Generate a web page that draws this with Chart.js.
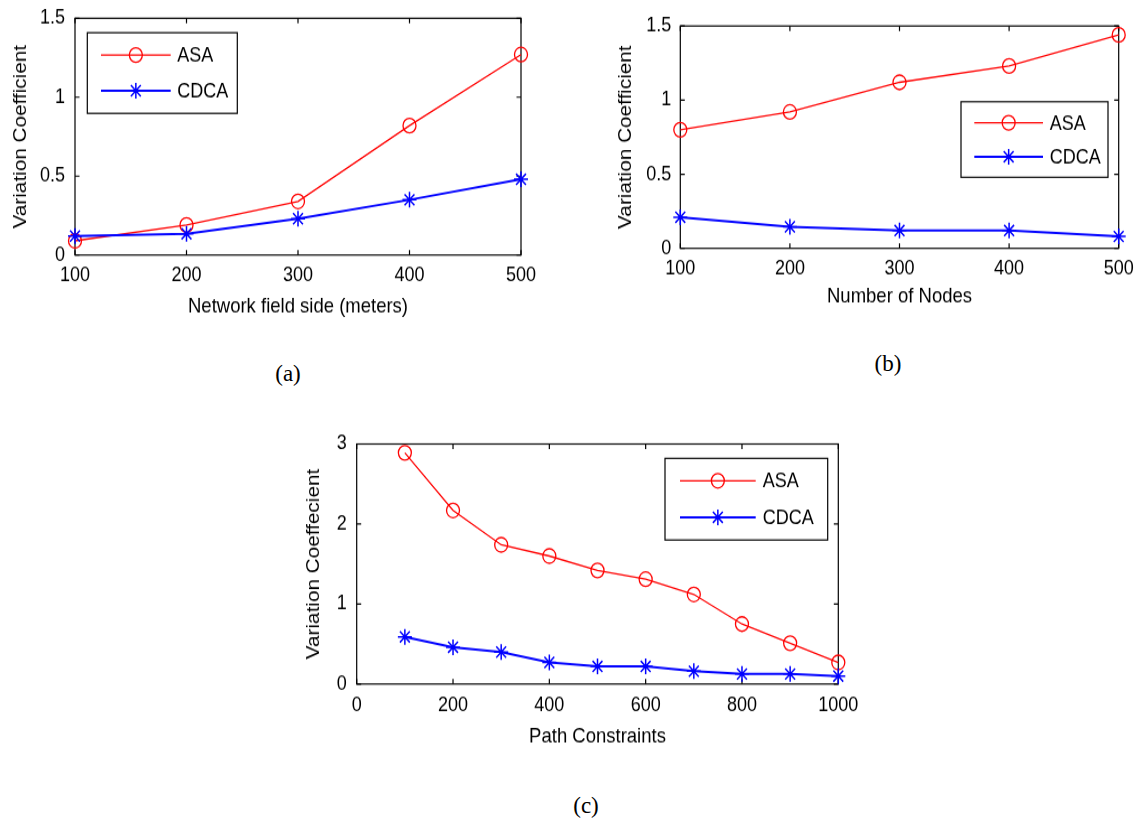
<!DOCTYPE html>
<html>
<head>
<meta charset="utf-8">
<title>Variation Coefficient - ASA vs CDCA</title>
<script src="https://cdn.jsdelivr.net/npm/chart.js@4.4.1/dist/chart.umd.min.js"></script>
<style>
    html, body { margin: 0; padding: 0; background: #fff; }
    body { width: 1137px; height: 819px; position: relative; overflow: hidden; }
    /* the source figure is slightly stretched vertically */
    .panel { position: absolute; transform: scaleY(1.12); transform-origin: 0 0; }
    .panel canvas { display: block; }
    .caption {
        position: absolute;
        font-family: 'Liberation Serif', 'Times New Roman', serif;
        font-size: 23px;
        color: #000;
        transform: translate(-50%, -50%);
    }
</style>
</head>
<body>
<div class="panel" style="left:0px;top:0px"><canvas id="chartA" width="545" height="290"></canvas></div>
<div class="panel" style="left:600px;top:0px"><canvas id="chartB" width="537" height="290"></canvas></div>
<div class="panel" style="left:300px;top:430px"><canvas id="chartC" width="575" height="290"></canvas></div>
<div class="caption" style="left:288px;top:374px">(a)</div>
<div class="caption" style="left:888px;top:364px">(b)</div>
<div class="caption" style="left:586px;top:806px">(c)</div>

<script>
// (a) Network field side
const fieldSide = [100, 200, 300, 400, 500];
const asaFieldSide = [0.09, 0.19, 0.34, 0.82, 1.27];
const cdcaFieldSide = [0.12, 0.135, 0.23, 0.35, 0.48];

// (b) Number of nodes
const nodeCount = [100, 200, 300, 400, 500];
const asaNodes = [0.80, 0.92, 1.12, 1.23, 1.44];
const cdcaNodes = [0.21, 0.145, 0.12, 0.12, 0.08];

// (c) Path constraints
const pathConstraints = [100, 200, 300, 400, 500, 600, 700, 800, 900, 1000];
const asaPath = [2.89, 2.17, 1.74, 1.60, 1.42, 1.31, 1.12, 0.75, 0.51, 0.27];
const cdcaPath = [0.59, 0.46, 0.40, 0.27, 0.22, 0.22, 0.16, 0.125, 0.125, 0.10];

// tick labels
const xTicksAB = [100, 200, 300, 400, 500];
const xTicksC = [0, 200, 400, 600, 800, 1000];
const yTicksAB = [0, 0.5, 1, 1.5];
const yTicksC = [0, 1, 2, 3];

const RED = '#ff0000';
const BLUE = '#0000ff';
const TEXT = '#000';
const FONT = "'Liberation Sans', Arial, Helvetica, sans-serif";

// MATLAB style box with inward ticks on all four sides, plus the legend
const matlabAxes = {
    id: 'matlabAxes',
    beforeDatasetsDraw(chart) {
        const { ctx, chartArea: a, scales: { x, y } } = chart;
        const t = 4.5;
        ctx.save();
        ctx.strokeStyle = '#000';
        ctx.lineWidth = 1.2;
        ctx.strokeRect(a.left, a.top, a.right - a.left, a.bottom - a.top);
        ctx.beginPath();
        x.ticks.forEach(tk => {
            const px = x.getPixelForValue(tk.value);
            ctx.moveTo(px, a.bottom); ctx.lineTo(px, a.bottom - t);
            ctx.moveTo(px, a.top); ctx.lineTo(px, a.top + t);
        });
        y.ticks.forEach(tk => {
            const py = y.getPixelForValue(tk.value);
            ctx.moveTo(a.left, py); ctx.lineTo(a.left + t, py);
            ctx.moveTo(a.right, py); ctx.lineTo(a.right - t, py);
        });
        ctx.stroke();
        ctx.restore();
    },
    afterDatasetsDraw(chart, args, opts) {
        const L = opts.legend;
        if (!L) return;
        const ctx = chart.ctx;
        ctx.save();
        ctx.fillStyle = '#fff';
        ctx.fillRect(L.x, L.y, L.w, L.h);
        ctx.strokeStyle = '#000';
        ctx.lineWidth = 1.2;
        ctx.strokeRect(L.x, L.y, L.w, L.h);

        chart.data.datasets.forEach((ds, i) => {
            const ry = L.y + L.rows[i];
            const x0 = L.x + L.line[0];
            const x1 = L.x + L.line[1];
            const cx = (x0 + x1) / 2;
            ctx.strokeStyle = ds.borderColor;
            ctx.lineWidth = ds.borderWidth;
            ctx.beginPath();
            ctx.moveTo(x0, ry);
            ctx.lineTo(x1, ry);
            ctx.stroke();

            const r = ds.pointRadius;
            ctx.lineWidth = ds.pointBorderWidth;
            ctx.beginPath();
            if (ds.pointStyle === 'circle') {
                ctx.arc(cx, ry, r, 0, Math.PI * 2);
            } else {
                const d = r * Math.SQRT1_2;
                ctx.moveTo(cx, ry - r); ctx.lineTo(cx, ry + r);
                ctx.moveTo(cx - r, ry); ctx.lineTo(cx + r, ry);
                ctx.moveTo(cx - d, ry - d); ctx.lineTo(cx + d, ry + d);
                ctx.moveTo(cx - d, ry + d); ctx.lineTo(cx + d, ry - d);
            }
            ctx.stroke();

            ctx.fillStyle = TEXT;
            ctx.font = `18px ${FONT}`;
            ctx.textAlign = 'left';
            ctx.textBaseline = 'middle';
            ctx.fillText(ds.label, L.x + L.text, ry + 1);
        });
        ctx.restore();
    }
};

function series(label, xs, ys, color, marker) {
    const isCircle = marker === 'circle';
    return {
        label: label,
        data: xs.map((x, i) => ({ x: x, y: ys[i] })),
        borderColor: color,
        borderWidth: isCircle ? 1.3 : 2,
        pointStyle: marker,
        pointRadius: isCircle ? 6.5 : 7,
        pointBorderColor: color,
        pointBackgroundColor: 'rgba(0,0,0,0)',
        pointBorderWidth: isCircle ? 1.3 : 1.5,
        tension: 0,
        clip: false,
        order: isCircle ? 1 : 0
    };
}

function makeChart(id, cfg) {
    const hiddenTicks = len => ({
        drawOnChartArea: false,
        drawTicks: true,
        tickLength: len,
        tickColor: 'rgba(0,0,0,0)'
    });

    const ctx = document.getElementById(id).getContext('2d');
    return new Chart(ctx, {
        type: 'line',
        data: {
            datasets: [
                series('ASA', cfg.xs, cfg.asa, RED, 'circle'),
                series('CDCA', cfg.xs, cfg.cdca, BLUE, 'star')
            ]
        },
        options: {
            responsive: false,
            animation: false,
            events: [],
            layout: {
                padding: { left: 0, top: cfg.top, right: cfg.right, bottom: 0 }
            },
            plugins: {
                legend: { display: false },
                tooltip: { enabled: false },
                matlabAxes: { legend: cfg.legend }
            },
            scales: {
                x: {
                    type: 'linear',
                    min: cfg.xTicks[0],
                    max: cfg.xTicks[cfg.xTicks.length - 1],
                    afterBuildTicks: axis => { axis.ticks = cfg.xTicks.map(v => ({ value: v })); },
                    afterFit: scale => { scale.height = cfg.xAxisHeight; },
                    grid: hiddenTicks(cfg.xTickGap),
                    border: { display: false },
                    ticks: {
                        padding: 0,
                        color: TEXT,
                        maxRotation: 0,
                        autoSkip: false,
                        font: { family: FONT, size: 18 },
                        callback: v => String(v)
                    },
                    title: {
                        display: true,
                        text: cfg.xTitle,
                        color: TEXT,
                        font: { family: FONT, size: 18.5 },
                        padding: { top: 0, bottom: cfg.xTitlePad }
                    }
                },
                y: {
                    type: 'linear',
                    min: 0,
                    max: cfg.yTicks[cfg.yTicks.length - 1],
                    afterBuildTicks: axis => { axis.ticks = cfg.yTicks.map(v => ({ value: v })); },
                    afterFit: scale => { scale.width = cfg.yAxisWidth; },
                    grid: hiddenTicks(cfg.yTickGap),
                    border: { display: false },
                    ticks: {
                        padding: 0,
                        color: TEXT,
                        autoSkip: false,
                        font: { family: FONT, size: 18 },
                        callback: v => String(v)
                    },
                    title: {
                        display: true,
                        text: cfg.yTitle,
                        color: TEXT,
                        font: { family: FONT, size: 18.5 },
                        padding: { top: cfg.yTitlePad, bottom: 0 }
                    }
                }
            }
        },
        plugins: [matlabAxes]
    });
}

makeChart('chartA', {
    xs: fieldSide, asa: asaFieldSide, cdca: cdcaFieldSide,
    xTicks: xTicksAB, yTicks: yTicksAB,
    xTitle: 'Network field side (meters)', yTitle: 'Variation Coefficient',
    top: 16.3, right: 24, xAxisHeight: 62.3, yAxisWidth: 75,
    xTickGap: 7.9, yTickGap: 10, xTitlePad: 4.8, yTitlePad: 9.6,
    legend: { x: 87.3, y: 29.2, w: 150, h: 72, line: [13.7, 83.4], text: 90, rows: [19.9, 51.8] }
});

makeChart('chartB', {
    xs: nodeCount, asa: asaNodes, cdca: cdcaNodes,
    xTicks: xTicksAB, yTicks: yTicksAB,
    xTitle: 'Number of Nodes', yTitle: 'Variation Coefficient',
    top: 23.2, right: 18.3, xAxisHeight: 68.3, yAxisWidth: 80.3,
    xTickGap: 7.1, yTickGap: 9, xTitlePad: 14, yTitlePad: 15.2,
    legend: { x: 361, y: 90.8, w: 147, h: 67.5, line: [13.3, 82], text: 88.7, rows: [18.8, 49.1] }
});

makeChart('chartC', {
    xs: pathConstraints, asa: asaPath, cdca: cdcaPath,
    xTicks: xTicksC, yTicks: yTicksC,
    xTitle: 'Path Constraints', yTitle: 'Variation Coeffecient',
    top: 12.5, right: 36.7, xAxisHeight: 63.2, yAxisWidth: 56.7,
    xTickGap: 8.8, yTickGap: 10, xTitlePad: 5.1, yTitlePad: 2.9,
    legend: { x: 365, y: 25.3, w: 162.7, h: 72.9, line: [15, 90.7], text: 97.7, rows: [20, 52.6] }
});
</script>
</body>
</html>
